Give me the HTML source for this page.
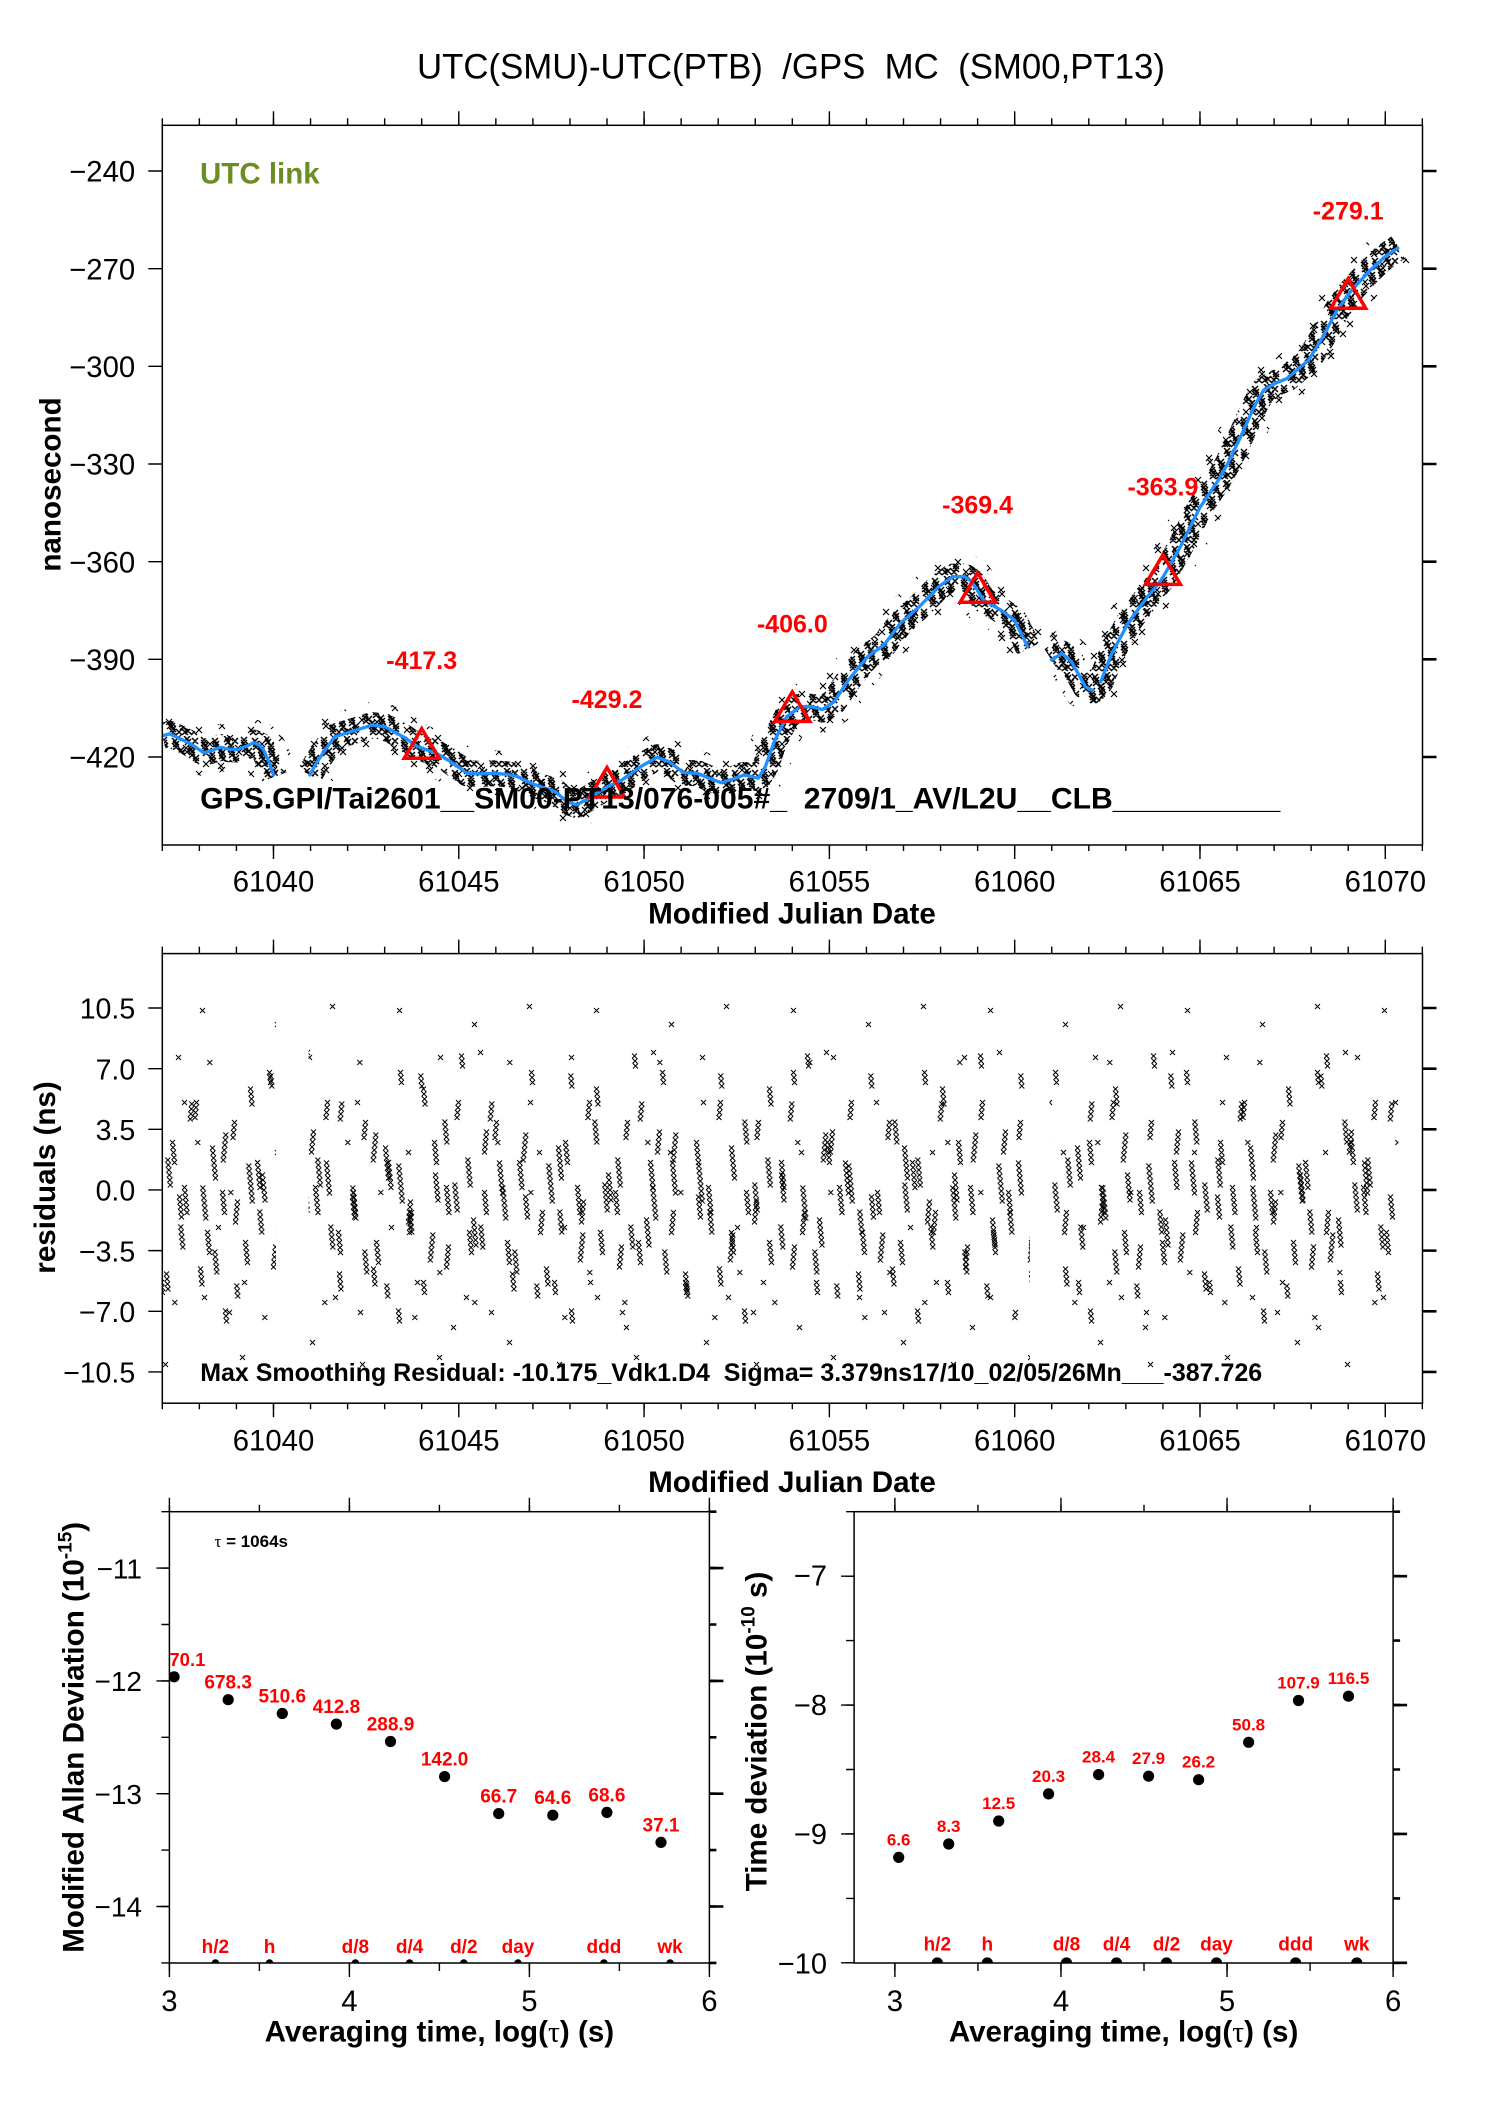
<!DOCTYPE html>
<html>
<head>
<meta charset="utf-8">
<style>
html,body{margin:0;padding:0;background:#fff;}
svg{display:block;}
text{white-space:pre;}
</style>
</head>
<body>
<svg xmlns="http://www.w3.org/2000/svg" width="1488" height="2105" viewBox="0 0 1488 2105" font-family="'Liberation Sans', Arial, Helvetica, sans-serif" xml:space="preserve">
<defs>
  <clipPath id="cTop"><rect x="162.3" y="125.3" width="1260.2" height="719.7"/></clipPath>
  <clipPath id="cMid"><rect x="162.3" y="953.6" width="1260.2" height="449.6"/></clipPath>
  <clipPath id="cBL"><rect x="169.4" y="1511.7" width="540" height="451.3"/></clipPath>
  <clipPath id="cBR"><rect x="854.1" y="1511.7" width="539" height="451.3"/></clipPath>
  <pattern id="pT" patternUnits="userSpaceOnUse" x="0" y="0" width="40" height="32">
    <path fill="none" stroke="#000" stroke-width="1.45" d="M1 1l6 6m0-6l-6 6M1 4l6 6m0-6l-6 6M2 7l6 6m0-6l-6 6M2 10l6 6m0-6l-6 6M3 14l6 6m0-6l-6 6M9 16l6 6m0-6l-6 6M9 19l6 6m0-6l-6 6M10 22l6 6m0-6l-6 6M10 25l6 6m0-6l-6 6M12 2l6 6m0-6l-6 6M13 5l6 6m0-6l-6 6M13 8l6 6m0-6l-6 6M18 11l6 6m0-6l-6 6M19 14l6 6m0-6l-6 6M19 17l6 6m0-6l-6 6M20 20l6 6m0-6l-6 6M24 0l6 6m0-6l-6 6M25 3l6 6m0-6l-6 6M25 24l6 6m0-6l-6 6M28 7l6 6m0-6l-6 6M28 10l6 6m0-6l-6 6M29 13l6 6m0-6l-6 6M29 16l6 6m0-6l-6 6M33 19l6 6m0-6l-6 6M33 22l6 6m0-6l-6 6M32 2l6 6m0-6l-6 6M6 12l6 6m0-6l-6 6M22 25l6 6m0-6l-6 6M16 25l6 6m0-6l-6 6M31 25l6 6m0-6l-6 6"/>
  </pattern>
  <pattern id="pT2" patternUnits="userSpaceOnUse" x="7" y="11" width="52" height="44">
    <path fill="none" stroke="#000" stroke-width="1.2" d="M3 4l6 6m0-6l-6 6M4 8l6 6m0-6l-6 6M20 30l6 6m0-6l-6 6M21 34l6 6m0-6l-6 6M33 12l6 6m0-6l-6 6M44 26l6 6m0-6l-6 6M12 20l6 6m0-6l-6 6M40 2l6 6m0-6l-6 6"/>
  </pattern>
  <pattern id="pA" patternUnits="userSpaceOnUse" x="162.3" y="1040" width="150" height="300">
    <path fill="none" stroke="#000" stroke-width="1" d="M3 117.5l5 5m0-5l-5 5m.5 0l5 5m0-5l-5 5m.5 0l5 5m0-5l-5 5m.5 0l5 5m0-5l-5 5m.5 0l5 5m0-5l-5 5m.5 0l5 5m0-5l-5 5
M16 184.5l5 5m0-5l-5 5m.5 0l5 5m0-5l-5 5m.5 0l5 5m0-5l-5 5m.5 0l5 5m0-5l-5 5m.5 0l5 5m0-5l-5 5
M27 61.5l5 5m0-5l-5 5m-.5 0l5 5m0-5l-5 5m-.5 0l5 5m0-5l-5 5m-.5 0l5 5m0-5l-5 5
M38 145.5l5 5m0-5l-5 5m.5 0l5 5m0-5l-5 5m.5 0l5 5m0-5l-5 5m.5 0l5 5m0-5l-5 5m.5 0l5 5m0-5l-5 5m.5 0l5 5m0-5l-5 5m.5 0l5 5m0-5l-5 5
M50 209.5l5 5m0-5l-5 5m.5 0l5 5m0-5l-5 5m.5 0l5 5m0-5l-5 5m.5 0l5 5m0-5l-5 5m.5 0l5 5m0-5l-5 5
M61 92.5l5 5m0-5l-5 5m-.5 0l5 5m0-5l-5 5m-.5 0l5 5m0-5l-5 5m-.5 0l5 5m0-5l-5 5m-.5 0l5 5m0-5l-5 5m-.5 0l5 5m0-5l-5 5
M72 243.5l5 5m0-5l-5 5m.5 0l5 5m0-5l-5 5m.5 0l5 5m0-5l-5 5
M84 123.5l5 5m0-5l-5 5m.5 0l5 5m0-5l-5 5m.5 0l5 5m0-5l-5 5m.5 0l5 5m0-5l-5 5m.5 0l5 5m0-5l-5 5m.5 0l5 5m0-5l-5 5m.5 0l5 5m0-5l-5 5m.5 0l5 5m0-5l-5 5
M95 169.5l5 5m0-5l-5 5m.5 0l5 5m0-5l-5 5m.5 0l5 5m0-5l-5 5m.5 0l5 5m0-5l-5 5m.5 0l5 5m0-5l-5 5
M106 33.5l5 5m0-5l-5 5m.5 0l5 5m0-5l-5 5m.5 0l5 5m0-5l-5 5
M118 192.5l5 5m0-5l-5 5m-.5 0l5 5m0-5l-5 5m-.5 0l5 5m0-5l-5 5m-.5 0l5 5m0-5l-5 5m-.5 0l5 5m0-5l-5 5m-.5 0l5 5m0-5l-5 5
M130 79.5l5 5m0-5l-5 5m.5 0l5 5m0-5l-5 5m.5 0l5 5m0-5l-5 5m.5 0l5 5m0-5l-5 5m.5 0l5 5m0-5l-5 5
M140 142.5l5 5m0-5l-5 5m.5 0l5 5m0-5l-5 5m.5 0l5 5m0-5l-5 5m.5 0l5 5m0-5l-5 5m.5 0l5 5m0-5l-5 5m.5 0l5 5m0-5l-5 5
M10 260l5 5m0-5l-5 5M45 20l5 5m0-5l-5 5M100 275l5 5m0-5l-5 5M125 230l5 5m0-5l-5 5M66 150l5 5m0-5l-5 5M33 100l5 5m0-5l-5 5"/>
  </pattern>
  <pattern id="pB" patternUnits="userSpaceOnUse" x="190" y="1040" width="173" height="300">
    <path fill="none" stroke="#000" stroke-width="1" d="M8 226.5l5 5m0-5l-5 5m.5 0l5 5m0-5l-5 5m.5 0l5 5m0-5l-5 5m.5 0l5 5m0-5l-5 5
M20 105.5l5 5m0-5l-5 5m.5 0l5 5m0-5l-5 5m.5 0l5 5m0-5l-5 5m.5 0l5 5m0-5l-5 5m.5 0l5 5m0-5l-5 5m.5 0l5 5m0-5l-5 5m.5 0l5 5m0-5l-5 5
M33 268.5l5 5m0-5l-5 5m.5 0l5 5m0-5l-5 5m.5 0l5 5m0-5l-5 5
M45 159.5l5 5m0-5l-5 5m-.5 0l5 5m0-5l-5 5m-.5 0l5 5m0-5l-5 5m-.5 0l5 5m0-5l-5 5m-.5 0l5 5m0-5l-5 5
M58 46.5l5 5m0-5l-5 5m.5 0l5 5m0-5l-5 5m.5 0l5 5m0-5l-5 5m.5 0l5 5m0-5l-5 5
M70 132.5l5 5m0-5l-5 5m.5 0l5 5m0-5l-5 5m.5 0l5 5m0-5l-5 5m.5 0l5 5m0-5l-5 5m.5 0l5 5m0-5l-5 5m.5 0l5 5m0-5l-5 5
M83 204.5l5 5m0-5l-5 5m-.5 0l5 5m0-5l-5 5m-.5 0l5 5m0-5l-5 5m-.5 0l5 5m0-5l-5 5m-.5 0l5 5m0-5l-5 5
M96 13.5l5 5m0-5l-5 5m.5 0l5 5m0-5l-5 5m.5 0l5 5m0-5l-5 5
M108 177.5l5 5m0-5l-5 5m.5 0l5 5m0-5l-5 5m.5 0l5 5m0-5l-5 5m.5 0l5 5m0-5l-5 5m.5 0l5 5m0-5l-5 5m.5 0l5 5m0-5l-5 5
M121 89.5l5 5m0-5l-5 5m-.5 0l5 5m0-5l-5 5m-.5 0l5 5m0-5l-5 5m-.5 0l5 5m0-5l-5 5m-.5 0l5 5m0-5l-5 5
M134 120.5l5 5m0-5l-5 5m.5 0l5 5m0-5l-5 5m.5 0l5 5m0-5l-5 5m.5 0l5 5m0-5l-5 5m.5 0l5 5m0-5l-5 5m.5 0l5 5m0-5l-5 5m.5 0l5 5m0-5l-5 5
M147 231.5l5 5m0-5l-5 5m.5 0l5 5m0-5l-5 5m.5 0l5 5m0-5l-5 5m.5 0l5 5m0-5l-5 5
M160 154.5l5 5m0-5l-5 5m.5 0l5 5m0-5l-5 5m.5 0l5 5m0-5l-5 5m.5 0l5 5m0-5l-5 5m.5 0l5 5m0-5l-5 5
M52 240l5 5m0-5l-5 5M115 10l5 5m0-5l-5 5M165 60l5 5m0-5l-5 5M88 285l5 5m0-5l-5 5M26 185l5 5m0-5l-5 5"/>
  </pattern>
  <pattern id="pC" patternUnits="userSpaceOnUse" x="215" y="1040" width="131" height="300">
    <path fill="none" stroke="#000" stroke-width="1" d="M5 150l5 5m0-5l-5 5m.5 0l5 5m0-5l-5 5m.5 0l5 5m0-5l-5 5m.5 0l5 5m0-5l-5 5m.5 0l5 5m0-5l-5 5
M17 80l5 5m0-5l-5 5m-.5 0l5 5m0-5l-5 5m-.5 0l5 5m0-5l-5 5m-.5 0l5 5m0-5l-5 5
M28 200l5 5m0-5l-5 5m.5 0l5 5m0-5l-5 5m.5 0l5 5m0-5l-5 5m.5 0l5 5m0-5l-5 5m.5 0l5 5m0-5l-5 5
M40 120l5 5m0-5l-5 5m.5 0l5 5m0-5l-5 5m.5 0l5 5m0-5l-5 5m.5 0l5 5m0-5l-5 5m.5 0l5 5m0-5l-5 5m.5 0l5 5m0-5l-5 5
M52 30l5 5m0-5l-5 5m.5 0l5 5m0-5l-5 5m.5 0l5 5m0-5l-5 5
M63 170l5 5m0-5l-5 5m-.5 0l5 5m0-5l-5 5m-.5 0l5 5m0-5l-5 5m-.5 0l5 5m0-5l-5 5m-.5 0l5 5m0-5l-5 5
M75 240l5 5m0-5l-5 5m.5 0l5 5m0-5l-5 5m.5 0l5 5m0-5l-5 5
M86 100l5 5m0-5l-5 5m.5 0l5 5m0-5l-5 5m.5 0l5 5m0-5l-5 5m.5 0l5 5m0-5l-5 5m.5 0l5 5m0-5l-5 5
M98 145l5 5m0-5l-5 5m.5 0l5 5m0-5l-5 5m.5 0l5 5m0-5l-5 5m.5 0l5 5m0-5l-5 5m.5 0l5 5m0-5l-5 5m.5 0l5 5m0-5l-5 5
M110 60l5 5m0-5l-5 5m-.5 0l5 5m0-5l-5 5m-.5 0l5 5m0-5l-5 5m-.5 0l5 5m0-5l-5 5
M121 190l5 5m0-5l-5 5m.5 0l5 5m0-5l-5 5m.5 0l5 5m0-5l-5 5m.5 0l5 5m0-5l-5 5m.5 0l5 5m0-5l-5 5
M12 270l5 5m0-5l-5 5M60 110l5 5m0-5l-5 5M92 15l5 5m0-5l-5 5M118 255l5 5m0-5l-5 5"/>
  </pattern>
  <pattern id="pD" patternUnits="userSpaceOnUse" x="180" y="1000" width="197" height="390">
    <path fill="none" stroke="#000" stroke-width="1" d="M20 8l5 5m0-5l-5 5M95 22l5 5m0-5l-5 5M150 4l5 5m0-5l-5 5M60 355l5 5m0-5l-5 5M130 340l5 5m0-5l-5 5M180 362l5 5m0-5l-5 5"/>
  </pattern>
</defs>
<rect x="0" y="0" width="1488" height="2105" fill="#ffffff"/>

<!-- Title -->
<text x="791" y="78.3" font-size="35" text-anchor="middle" textLength="748" lengthAdjust="spacingAndGlyphs">UTC(SMU)-UTC(PTB)  /GPS  MC  (SM00,PT13)</text>

<!-- ================= TOP PLOT ================= -->
<g clip-path="url(#cTop)">
  <g fill="none" stroke="url(#pT2)" stroke-width="46" stroke-linejoin="round">
    <polyline points="162.3,735.8 169.7,733.9 179.0,738.1 189.7,743.3 203.8,752.8 212.3,750.5 220.5,747.2 229.0,749.2 237.2,749.5 245.7,746.6 253.8,742.7 259.4,745.0 263.5,749.8 269.0,761.9 274.5,776.9"/>
    <polyline points="309.8,774.9 316.1,763.5 322.8,753.4 334.6,736.8 351.3,731.6 372.4,725.1 384.7,726.7 403.2,736.8 417.6,746.6 436.5,753.4 450.6,761.6 467.3,773.3 481.0,773.9 493.6,773.3 507.0,774.3 517.3,776.5 531.4,783.4 555.1,791.5 567.0,801.6 576.6,804.9 588.5,798.4 607.4,786.6 621.8,780.1 640.4,766.8 657.0,757.3 668.9,761.6 683.4,772.6 697.4,773.3 708.9,778.2 721.2,782.7 733.0,779.1 744.1,774.9 758.2,778.2 765.3,766.8 774.9,740.1 786.8,716.6 800.8,706.5 812.7,706.9 822.3,709.5 834.2,701.7 848.3,680.2 867.5,656.7 883.9,645.0 900.5,623.2 919.4,606.6 938.7,586.7 952.8,576.6 964.7,576.6 971.7,581.5 983.6,600.1 1000.2,609.8 1014.3,619.9 1028.7,648.6"/>
    <polyline points="1051.4,660.0 1061.8,653.5 1071.4,661.6 1085.5,686.7 1092.9,690.6 1100.7,681.8 1111.8,653.5 1128.1,623.2 1147.4,596.8 1161.4,579.9 1180.4,546.7 1199.6,508.0 1218.5,480.0 1227.8,463.4 1242.2,433.4 1254.1,406.7 1263.7,390.1 1275.2,383.3 1287.2,378.4 1308.6,360.1 1323.0,336.7 1337.1,310.0 1351.6,290.2 1370.5,270.0 1385.1,256.6 1398.7,247.2"/>
  </g>
  <g fill="none" stroke="url(#pT)" stroke-width="26" stroke-linejoin="round">
    <polyline points="162.3,735.8 169.7,733.9 179.0,738.1 189.7,743.3 203.8,752.8 212.3,750.5 220.5,747.2 229.0,749.2 237.2,749.5 245.7,746.6 253.8,742.7 259.4,745.0 263.5,749.8 269.0,761.9 274.5,776.9"/>
    <polyline points="309.8,774.9 316.1,763.5 322.8,753.4 334.6,736.8 351.3,731.6 372.4,725.1 384.7,726.7 403.2,736.8 417.6,746.6 436.5,753.4 450.6,761.6 467.3,773.3 481.0,773.9 493.6,773.3 507.0,774.3 517.3,776.5 531.4,783.4 555.1,791.5 567.0,801.6 576.6,804.9 588.5,798.4 607.4,786.6 621.8,780.1 640.4,766.8 657.0,757.3 668.9,761.6 683.4,772.6 697.4,773.3 708.9,778.2 721.2,782.7 733.0,779.1 744.1,774.9 758.2,778.2 765.3,766.8 774.9,740.1 786.8,716.6 800.8,706.5 812.7,706.9 822.3,709.5 834.2,701.7 848.3,680.2 867.5,656.7 883.9,645.0 900.5,623.2 919.4,606.6 938.7,586.7 952.8,576.6 964.7,576.6 971.7,581.5 983.6,600.1 1000.2,609.8 1014.3,619.9 1028.7,648.6"/>
    <polyline points="1051.4,660.0 1061.8,653.5 1071.4,661.6 1085.5,686.7 1092.9,690.6 1100.7,681.8 1111.8,653.5 1128.1,623.2 1147.4,596.8 1161.4,579.9 1180.4,546.7 1199.6,508.0 1218.5,480.0 1227.8,463.4 1242.2,433.4 1254.1,406.7 1263.7,390.1 1275.2,383.3 1287.2,378.4 1308.6,360.1 1323.0,336.7 1337.1,310.0 1351.6,290.2 1370.5,270.0 1385.1,256.6 1398.7,247.2"/>
  </g>
  <g fill="none" stroke="#1e90ff" stroke-width="3.3" stroke-linejoin="round" stroke-linecap="round">
    <polyline points="162.3,735.8 169.7,733.9 179.0,738.1 189.7,743.3 203.8,752.8 212.3,750.5 220.5,747.2 229.0,749.2 237.2,749.5 245.7,746.6 253.8,742.7 259.4,745.0 263.5,749.8 269.0,761.9 273.5,774.9"/>
    <polyline points="309.8,774.9 316.1,763.5 322.8,753.4 334.6,736.8 351.3,731.6 372.4,725.1 384.7,726.7 403.2,736.8 417.6,746.6 436.5,753.4 450.6,761.6 467.3,773.3 481.0,773.9 493.6,773.3 507.0,774.3 517.3,776.5 531.4,783.4 555.1,791.5 567.0,801.6 576.6,804.9 588.5,798.4 607.4,786.6 621.8,780.1 640.4,766.8 657.0,757.3 668.9,761.6 683.4,772.6 697.4,773.3 708.9,778.2 721.2,782.7 733.0,779.1 744.1,774.9 758.2,778.2 765.3,766.8 774.9,740.1 786.8,716.6 800.8,706.5 812.7,706.9 822.3,709.5 834.2,701.7 848.3,680.2 867.5,656.7 883.9,645.0 900.5,623.2 919.4,606.6 938.7,586.7 952.8,576.6 964.7,576.6 971.7,581.5 983.6,600.1 1000.2,609.8 1014.3,619.9 1027.7,646.6"/>
    <polyline points="1051.4,660.0 1061.8,653.5 1071.4,661.6 1085.5,686.7 1092.9,690.6"/>
    <polyline points="1100.7,681.8 1111.8,653.5 1128.1,623.2 1147.4,596.8 1161.4,579.9 1180.4,546.7 1199.6,508.0 1218.5,480.0 1227.8,463.4 1242.2,433.4 1254.1,406.7 1263.7,390.1 1275.2,383.3 1287.2,378.4 1308.6,360.1 1323.0,336.7 1337.1,310.0 1351.6,290.2 1370.5,270.0 1385.1,256.6 1397.7,248.2"/>
  </g>
  <g fill="none" stroke="#ff0000" stroke-width="3.5" stroke-linejoin="miter">
    <polygon points="421.7,728.7 404.2,758.2 439.2,758.2"/>
    <polygon points="607.0,767.5 589.5,797.0 624.5,797.0"/>
    <polygon points="792.3,691.9 774.8,721.4 809.8,721.4"/>
    <polygon points="977.6,572.8 960.1,602.3 995.1,602.3"/>
    <polygon points="1162.9,554.9 1145.4,584.4 1180.4,584.4"/>
    <polygon points="1348.2,278.8 1330.7,308.3 1365.7,308.3"/>
  </g>
</g>
<g font-size="25" font-weight="bold" fill="#ff0000" text-anchor="middle">
  <text x="421.7" y="669.2">-417.3</text>
  <text x="607.0" y="708.0">-429.2</text>
  <text x="792.3" y="632.4">-406.0</text>
  <text x="977.6" y="513.3">-369.4</text>
  <text x="1162.9" y="495.4">-363.9</text>
  <text x="1348.2" y="219.3">-279.1</text>
</g>
<text x="200" y="183.3" font-size="29.5" font-weight="bold" fill="#6b8e23">UTC link</text>
<text x="200.2" y="808.7" font-size="29.9" font-weight="bold" textLength="1080" lengthAdjust="spacingAndGlyphs">GPS.GPI/Tai2601__SM00-PT13/076-005#_  2709/1_AV/L2U__CLB__________</text>
<rect x="162.3" y="125.3" width="1260.2" height="719.7" fill="none" stroke="#000" stroke-width="1.5"/>
<g font-size="29.3" text-anchor="end">
  <text x="135.2" y="181.7">−240</text>
  <text x="135.2" y="279.4">−270</text>
  <text x="135.2" y="377.0">−300</text>
  <text x="135.2" y="474.7">−330</text>
  <text x="135.2" y="572.4">−360</text>
  <text x="135.2" y="670.0">−390</text>
  <text x="135.2" y="767.7">−420</text>
</g>
<g font-size="29.3" text-anchor="middle">
  <text x="273.5" y="891.6">61040</text>
  <text x="458.8" y="891.6">61045</text>
  <text x="644.1" y="891.6">61050</text>
  <text x="829.4" y="891.6">61055</text>
  <text x="1014.7" y="891.6">61060</text>
  <text x="1200.0" y="891.6">61065</text>
  <text x="1385.3" y="891.6">61070</text>
</g>
<text x="792" y="923.3" font-size="29.6" font-weight="bold" text-anchor="middle">Modified Julian Date</text>
<text transform="translate(60.5,484.5) rotate(-90)" font-size="29.6" font-weight="bold" text-anchor="middle">nanosecond</text>

<!-- ================= MIDDLE PLOT ================= -->
<g clip-path="url(#cMid)">
  <rect x="162.3" y="1040" width="1236" height="300" fill="url(#pA)"/>
  <rect x="162.3" y="1040" width="1236" height="300" fill="url(#pB)"/>
  <rect x="162.3" y="1040" width="1236" height="300" fill="url(#pC)"/>
  <rect x="162.3" y="1000" width="1236" height="390" fill="url(#pD)"/>
  <rect x="276" y="995" width="32.6" height="370" fill="#fff"/>
  <rect x="1030" y="995" width="19.5" height="370" fill="#fff"/>
</g>
<text x="200.2" y="1381" font-size="25" font-weight="bold" textLength="1062" lengthAdjust="spacingAndGlyphs">Max Smoothing Residual: -10.175_Vdk1.D4  Sigma= 3.379ns17/10_02/05/26Mn___-387.726</text>
<rect x="162.3" y="953.6" width="1260.2" height="449.6" fill="none" stroke="#000" stroke-width="1.5"/>
<g font-size="28.5" text-anchor="end">
  <text x="135.2" y="1018.6">10.5</text>
  <text x="135.2" y="1079.3">7.0</text>
  <text x="135.2" y="1139.9">3.5</text>
  <text x="135.2" y="1200.6">0.0</text>
  <text x="135.2" y="1261.3">−3.5</text>
  <text x="135.2" y="1321.9">−7.0</text>
  <text x="135.2" y="1382.6">−10.5</text>
</g>
<g font-size="29.3" text-anchor="middle">
  <text x="273.5" y="1450.6">61040</text>
  <text x="458.8" y="1450.6">61045</text>
  <text x="644.1" y="1450.6">61050</text>
  <text x="829.4" y="1450.6">61055</text>
  <text x="1014.7" y="1450.6">61060</text>
  <text x="1200.0" y="1450.6">61065</text>
  <text x="1385.3" y="1450.6">61070</text>
</g>
<text x="792" y="1492" font-size="29.6" font-weight="bold" text-anchor="middle">Modified Julian Date</text>
<text transform="translate(55,1177.5) rotate(-90)" font-size="29.6" font-weight="bold" text-anchor="middle">residuals (ns)</text>

<!-- ================= BOTTOM LEFT ================= -->
<g clip-path="url(#cBL)">
  <g fill="#000">
    <circle cx="215.4" cy="1963" r="3.8"/><circle cx="269.5" cy="1963" r="3.8"/><circle cx="355.4" cy="1963" r="3.8"/><circle cx="409.6" cy="1963" r="3.8"/>
    <circle cx="463.8" cy="1963" r="3.8"/><circle cx="518.0" cy="1963" r="3.8"/><circle cx="603.9" cy="1963" r="3.8"/><circle cx="670.1" cy="1963" r="3.8"/>
    <circle cx="174.1" cy="1676.8" r="5.6"/>
    <circle cx="228.2" cy="1699.7" r="5.6"/>
    <circle cx="282.3" cy="1713.5" r="5.6"/>
    <circle cx="336.4" cy="1724.1" r="5.6"/>
    <circle cx="390.5" cy="1741.5" r="5.6"/>
    <circle cx="444.6" cy="1776.6" r="5.6"/>
    <circle cx="498.7" cy="1813.6" r="5.6"/>
    <circle cx="552.8" cy="1815.2" r="5.6"/>
    <circle cx="606.9" cy="1812.4" r="5.6"/>
    <circle cx="661.0" cy="1842.4" r="5.6"/>
  </g>
  <text x="169.4" y="1665.8" font-size="18.5" font-weight="bold" fill="#ff0000">70.1</text>
</g>
<g font-size="19" font-weight="bold" fill="#ff0000" text-anchor="middle">
  <text x="228.2" y="1688.7">678.3</text>
  <text x="282.3" y="1702.5">510.6</text>
  <text x="336.4" y="1713.1">412.8</text>
  <text x="390.5" y="1730.5">288.9</text>
  <text x="444.6" y="1765.6">142.0</text>
  <text x="498.7" y="1802.6">66.7</text>
  <text x="552.8" y="1804.2">64.6</text>
  <text x="606.9" y="1801.4">68.6</text>
  <text x="661.0" y="1831.4">37.1</text>
  <text x="215.4" y="1953">h/2</text>
  <text x="269.5" y="1953">h</text>
  <text x="355.4" y="1953">d/8</text>
  <text x="409.6" y="1953">d/4</text>
  <text x="463.8" y="1953">d/2</text>
  <text x="518.0" y="1953">day</text>
  <text x="603.9" y="1953">ddd</text>
  <text x="670.1" y="1953">wk</text>
</g>
<text x="214.5" y="1547" font-size="17" font-weight="bold"><tspan font-family="'Liberation Serif', serif" font-weight="normal">τ</tspan> = 1064s</text>
<rect x="169.4" y="1511.7" width="540" height="451.3" fill="none" stroke="#000" stroke-width="1.5"/>
<g font-size="28" text-anchor="end">
  <text x="142" y="1578.3">−11</text>
  <text x="142" y="1691.1">−12</text>
  <text x="142" y="1803.9">−13</text>
  <text x="142" y="1916.7">−14</text>
</g>
<g font-size="29.3" text-anchor="middle">
  <text x="169.4" y="2011">3</text>
  <text x="349.4" y="2011">4</text>
  <text x="529.4" y="2011">5</text>
  <text x="709.4" y="2011">6</text>
</g>
<text x="439.4" y="2041.5" font-size="29.6" font-weight="bold" text-anchor="middle">Averaging time, log(<tspan font-family="'Liberation Serif', serif" font-weight="normal">τ</tspan>) (s)</text>
<text transform="translate(83.5,1737.3) rotate(-90)" font-size="29.6" font-weight="bold" text-anchor="middle">Modified Allan Deviation (10<tspan font-size="19" dy="-12">-15</tspan><tspan dy="12">)</tspan></text>

<!-- ================= BOTTOM RIGHT ================= -->
<g clip-path="url(#cBR)">
  <g fill="#000">
    <circle cx="937.3" cy="1963" r="5.6"/><circle cx="987.3" cy="1963" r="5.6"/><circle cx="1066.5" cy="1963" r="5.6"/><circle cx="1116.5" cy="1963" r="5.6"/>
    <circle cx="1166.5" cy="1963" r="5.6"/><circle cx="1216.5" cy="1963" r="5.6"/><circle cx="1295.7" cy="1963" r="5.6"/><circle cx="1356.8" cy="1963" r="5.6"/>
    <circle cx="898.7" cy="1857.4" r="5.6"/>
    <circle cx="948.7" cy="1844.0" r="5.6"/>
    <circle cx="998.7" cy="1821.0" r="5.6"/>
    <circle cx="1048.6" cy="1793.9" r="5.6"/>
    <circle cx="1098.6" cy="1774.6" r="5.6"/>
    <circle cx="1148.6" cy="1776.2" r="5.6"/>
    <circle cx="1198.6" cy="1779.7" r="5.6"/>
    <circle cx="1248.6" cy="1742.3" r="5.6"/>
    <circle cx="1298.5" cy="1700.5" r="5.6"/>
    <circle cx="1348.5" cy="1696.2" r="5.6"/>
  </g>
</g>
<g font-size="17" font-weight="bold" fill="#ff0000" text-anchor="middle">
  <text x="898.7" y="1845.4">6.6</text>
  <text x="948.7" y="1832.0">8.3</text>
  <text x="998.7" y="1809.0">12.5</text>
  <text x="1048.6" y="1781.9">20.3</text>
  <text x="1098.6" y="1762.6">28.4</text>
  <text x="1148.6" y="1764.2">27.9</text>
  <text x="1198.6" y="1767.7">26.2</text>
  <text x="1248.6" y="1730.3">50.8</text>
  <text x="1298.5" y="1688.5">107.9</text>
  <text x="1348.5" y="1684.2">116.5</text>
</g>
<g font-size="19" font-weight="bold" fill="#ff0000" text-anchor="middle">
  <text x="937.3" y="1950.5">h/2</text>
  <text x="987.3" y="1950.5">h</text>
  <text x="1066.5" y="1950.5">d/8</text>
  <text x="1116.5" y="1950.5">d/4</text>
  <text x="1166.5" y="1950.5">d/2</text>
  <text x="1216.5" y="1950.5">day</text>
  <text x="1295.7" y="1950.5">ddd</text>
  <text x="1356.8" y="1950.5">wk</text>
</g>
<rect x="854.1" y="1511.7" width="539" height="451.3" fill="none" stroke="#000" stroke-width="1.5"/>
<g font-size="29" text-anchor="end">
  <text x="827" y="1585.5">−7</text>
  <text x="827" y="1715.0">−8</text>
  <text x="827" y="1844.0">−9</text>
  <text x="827" y="1973.3">−10</text>
</g>
<g font-size="29.3" text-anchor="middle">
  <text x="894.9" y="2011">3</text>
  <text x="1061.0" y="2011">4</text>
  <text x="1227.0" y="2011">5</text>
  <text x="1393.1" y="2011">6</text>
</g>
<text x="1123.6" y="2041.5" font-size="29.6" font-weight="bold" text-anchor="middle">Averaging time, log(<tspan font-family="'Liberation Serif', serif" font-weight="normal">τ</tspan>) (s)</text>
<text transform="translate(766.5,1731.5) rotate(-90)" font-size="29.6" font-weight="bold" text-anchor="middle">Time deviation (10<tspan font-size="19" dy="-12">-10</tspan><tspan dy="12"> s)</tspan></text>

<!-- ================= TICKS (static) ================= -->
<g fill="none" stroke="#000" stroke-width="1.4">
  <path d="M162.3 125.3v-7m37.06 7v-7m37.06 7v-7m37.06 7v-7m37.06 7v-7m37.06 7v-7m37.06 7v-7m37.06 7v-7m37.06 7v-7m37.06 7v-7m37.06 7v-7m37.06 7v-7m37.06 7v-7m37.06 7v-7m37.06 7v-7m37.06 7v-7m37.06 7v-7m37.06 7v-7m37.06 7v-7m37.06 7v-7m37.06 7v-7m37.06 7v-7m37.06 7v-7m37.06 7v-7m37.06 7v-7m37.06 7v-7m37.06 7v-7m37.06 7v-7m37.06 7v-7m37.06 7v-7m37.06 7v-7m37.06 7v-7m37.06 7v-7m37.06 7v-7m37.06 7v-7"/>
  <path d="M273.48 125.3v-14m185.3 14v-14m185.3 14v-14m185.3 14v-14m185.3 14v-14m185.3 14v-14m185.3 14v-14"/>
  <path d="M162.3 845v6m37.06 -6v6m37.06 -6v6m37.06 -6v6m37.06 -6v6m37.06 -6v6m37.06 -6v6m37.06 -6v6m37.06 -6v6m37.06 -6v6m37.06 -6v6m37.06 -6v6m37.06 -6v6m37.06 -6v6m37.06 -6v6m37.06 -6v6m37.06 -6v6m37.06 -6v6m37.06 -6v6m37.06 -6v6m37.06 -6v6m37.06 -6v6m37.06 -6v6m37.06 -6v6m37.06 -6v6m37.06 -6v6m37.06 -6v6m37.06 -6v6m37.06 -6v6m37.06 -6v6m37.06 -6v6m37.06 -6v6m37.06 -6v6m37.06 -6v6m37.06 -6v6"/>
  <path d="M273.48 845v14m185.3 -14v14m185.3 -14v14m185.3 -14v14m185.3 -14v14m185.3 -14v14m185.3 -14v14"/>
  <path d="M162.3 953.6v-7m37.06 7v-7m37.06 7v-7m37.06 7v-7m37.06 7v-7m37.06 7v-7m37.06 7v-7m37.06 7v-7m37.06 7v-7m37.06 7v-7m37.06 7v-7m37.06 7v-7m37.06 7v-7m37.06 7v-7m37.06 7v-7m37.06 7v-7m37.06 7v-7m37.06 7v-7m37.06 7v-7m37.06 7v-7m37.06 7v-7m37.06 7v-7m37.06 7v-7m37.06 7v-7m37.06 7v-7m37.06 7v-7m37.06 7v-7m37.06 7v-7m37.06 7v-7m37.06 7v-7m37.06 7v-7m37.06 7v-7m37.06 7v-7m37.06 7v-7m37.06 7v-7"/>
  <path d="M273.48 953.6v-14m185.3 14v-14m185.3 14v-14m185.3 14v-14m185.3 14v-14m185.3 14v-14m185.3 14v-14"/>
  <path d="M162.3 1403.2v6m37.06 -6v6m37.06 -6v6m37.06 -6v6m37.06 -6v6m37.06 -6v6m37.06 -6v6m37.06 -6v6m37.06 -6v6m37.06 -6v6m37.06 -6v6m37.06 -6v6m37.06 -6v6m37.06 -6v6m37.06 -6v6m37.06 -6v6m37.06 -6v6m37.06 -6v6m37.06 -6v6m37.06 -6v6m37.06 -6v6m37.06 -6v6m37.06 -6v6m37.06 -6v6m37.06 -6v6m37.06 -6v6m37.06 -6v6m37.06 -6v6m37.06 -6v6m37.06 -6v6m37.06 -6v6m37.06 -6v6m37.06 -6v6m37.06 -6v6m37.06 -6v6"/>
  <path d="M273.48 1403.2v14m185.3 -14v14m185.3 -14v14m185.3 -14v14m185.3 -14v14m185.3 -14v14m185.3 -14v14"/>
  <path d="M162.3 171h-14m14 97.668h-14m14 97.668h-14m14 97.668h-14m14 97.668h-14m14 97.668h-14m14 97.668h-14"/>
  <path d="M162.3 1008h-14m14 60.655h-14m14 60.655h-14m14 60.655h-14m14 60.655h-14m14 60.655h-14m14 60.655h-14"/>
  <path d="M169.4 1511.7v-7m90 7v-7m90 7v-7m90 7v-7m90 7v-7m90 7v-7m90 7v-7"/>
  <path d="M169.4 1511.7v-14m180 14v-14m180 14v-14m180 14v-14"/>
  <path d="M169.4 1963v8m90 -8v8m90 -8v8m90 -8v8m90 -8v8m90 -8v8m90 -8v8"/>
  <path d="M169.4 1963v14m180 -14v14m180 -14v14m180 -14v14"/>
  <path d="M169.4 1511.7h-8m8 56.4h-8m8 56.4h-8m8 56.4h-8m8 56.4h-8m8 56.4h-8m8 56.4h-8m8 56.4h-8m8 56.4h-8"/>
  <path d="M169.4 1568.1h-13m13 112.8h-13m13 112.8h-13m13 112.8h-13"/>
  <path d="M894.9 1511.7v-7m83.035 7v-7m83.035 7v-7m83.035 7v-7m83.035 7v-7m83.035 7v-7m83.035 7v-7"/>
  <path d="M894.9 1511.7v-14m166.07 14v-14m166.07 14v-14m166.07 14v-14"/>
  <path d="M894.9 1963v8m83.035 -8v8m83.035 -8v8m83.035 -8v8m83.035 -8v8m83.035 -8v8m83.035 -8v8"/>
  <path d="M894.9 1963v14m166.07 -14v14m166.07 -14v14m166.07 -14v14"/>
  <path d="M854.1 1511.7h-8m8 64.45h-8m8 64.45h-8m8 64.45h-8m8 64.45h-8m8 64.45h-8m8 64.45h-8m8 64.45h-8"/>
  <path d="M854.1 1576.15h-13m13 128.9h-13m13 128.9h-13m13 128.9h-13"/>
</g>
<g fill="none" stroke="#000" stroke-width="2.6">
  <path d="M1422.5 171h14m-14 97.668h14m-14 97.668h14m-14 97.668h14m-14 97.668h14m-14 97.668h14m-14 97.668h14"/>
  <path d="M1422.5 1008h14m-14 60.655h14m-14 60.655h14m-14 60.655h14m-14 60.655h14m-14 60.655h14m-14 60.655h14"/>
  <path d="M709.4 1511.7h7m-7 56.4h7m-7 56.4h7m-7 56.4h7m-7 56.4h7m-7 56.4h7m-7 56.4h7m-7 56.4h7m-7 56.4h7"/>
  <path d="M709.4 1568.1h14m-14 112.8h14m-14 112.8h14m-14 112.8h14"/>
  <path d="M1393.1 1511.7h7m-7 64.45h7m-7 64.45h7m-7 64.45h7m-7 64.45h7m-7 64.45h7m-7 64.45h7m-7 64.45h7"/>
  <path d="M1393.1 1576.15h14m-14 128.9h14m-14 128.9h14m-14 128.9h14"/>
</g>
</svg>
</body>
</html>
